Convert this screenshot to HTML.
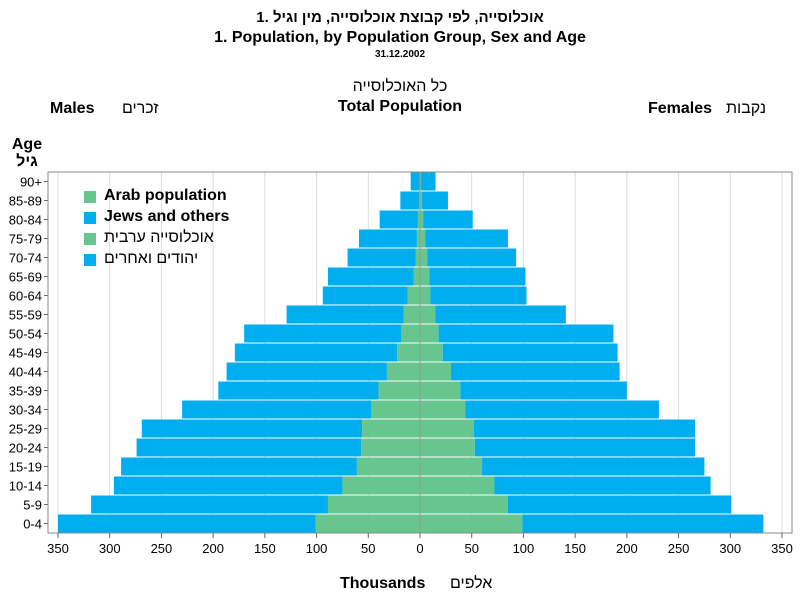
<!DOCTYPE html>
<html><head><meta charset="utf-8"><style>
body{margin:0;background:#fff;font-family:"Liberation Sans","Noto Sans CJK SC",sans-serif}
svg text{font-family:"Liberation Sans","Noto Sans CJK SC",sans-serif}
</style></head><body>
<svg id="chart" width="800" height="600">
<text x="400" y="22" text-anchor="middle" font-size="15" font-weight="bold">1.  אוכלוסייה, לפי קבוצת אוכלוסייה, מין וגיל</text>
<text x="400" y="42" text-anchor="middle" font-size="16" font-weight="bold">1. Population, by Population Group, Sex and Age</text>
<text x="400" y="57" text-anchor="middle" font-size="10" font-weight="bold">31.12.2002</text>
<text x="400" y="91" text-anchor="middle" font-size="16">כל האוכלוסייה</text>
<text x="400" y="111" text-anchor="middle" font-size="16" font-weight="bold">Total Population</text>
<text x="50" y="113" font-size="16" font-weight="bold">Males</text>
<text x="122" y="113" font-size="16">זכרים</text>
<text x="648" y="113" font-size="16" font-weight="bold">Females</text>
<text x="726" y="113" font-size="16">נקבות</text>
<text x="27" y="149" text-anchor="middle" font-size="16" font-weight="bold">Age</text>
<text x="27" y="166" text-anchor="middle" font-size="16" font-weight="bold">גיל</text>
<text x="340" y="588" font-size="16" font-weight="bold">Thousands</text>
<text x="450" y="588" font-size="16">אלפים</text>
<g id="grid"></g><g id="bars"></g><g id="axes"></g>
<g>
<rect x="84" y="191" width="12" height="12" fill="#66c68e"/>
<text x="104" y="200" font-size="16" font-weight="bold">Arab population</text>
<rect x="84" y="212" width="12" height="12" fill="#00adef"/>
<text x="104" y="221" font-size="16" font-weight="bold">Jews and others</text>
<rect x="84" y="233" width="12" height="12" fill="#66c68e"/>
<text x="104" y="242" font-size="16">אוכלוסייה ערבית</text>
<rect x="84" y="254" width="12" height="12" fill="#00adef"/>
<text x="104" y="263" font-size="16">יהודים ואחרים</text>
</g>
</svg>
<script>
const ages=["0-4","5-9","10-14","15-19","20-24","25-29","30-34","35-39","40-44","45-49","50-54","55-59","60-64","65-69","70-74","75-79","80-84","85-89","90+"];
const maleArab=[101,89,75,61,57,56,47,40,32,22,18,16,12,6,4,3,2,1,0.5];
const maleTotal=[350,318,296,289,274,269,230,195,187,179,170,129,94,89,70,59,39,19,9];
const femaleArab=[99,85,72,60,53,52,44,39,30,22,18,15,10,9,7,5,3,2,1];
const femaleTotal=[332,301,281,275,266,266,231,200,193,191,187,141,103,102,93,85,51,27,15];
const ticks=[-350,-300,-250,-200,-150,-100,-50,0,50,100,150,200,250,300,350];
const NS="http://www.w3.org/2000/svg";
const X0=420,SC=362/350,TOP=172,BOT=533,N=ages.length,STEP=(BOT-TOP)/N;
const xs=v=>X0+v*SC;
const yc=i=>BOT-(i+0.5)*STEP;
function mk(tag,attrs,parent){const e=document.createElementNS(NS,tag);for(const k in attrs)e.setAttribute(k,attrs[k]);parent.appendChild(e);return e;}
const grid=document.getElementById('grid'),bars=document.getElementById('bars'),axes=document.getElementById('axes');
ticks.forEach(t=>{
  const l=mk('line',{x1:xs(t),x2:xs(t),y1:TOP,y2:BOT,stroke:'#dcdcdc'},grid);
  
  
  const tk=mk('line',{x1:xs(t),x2:xs(t),y1:BOT,y2:BOT+5,stroke:'#666'},axes);
  
  
  const tx=mk('text',{x:xs(t),y:BOT+20,'text-anchor':'middle','font-size':13},axes);
  tx.textContent=Math.abs(t);
  
  
});
const H=STEP-1;
function bar(x1,x2,y,fill,name){
  const r=mk('rect',{x:Math.min(x1,x2),y:y-H/2,width:Math.abs(x2-x1),height:H,fill:fill},bars);
  
  
}
ages.forEach((a,i)=>{
  const y=yc(i);
  bar(xs(-maleTotal[i]),xs(-maleArab[i]),y,'#00adef','bar-male-jews-'+a);
  bar(xs(-maleArab[i]),xs(0),y,'#66c68e','bar-male-arab-'+a);
  bar(xs(0),xs(femaleArab[i]),y,'#66c68e','bar-female-arab-'+a);
  bar(xs(femaleArab[i]),xs(femaleTotal[i]),y,'#00adef','bar-female-jews-'+a);
  const tk=mk('line',{x1:44,x2:48,y1:y,y2:y,stroke:'#666'},axes);
  
  
  const tx=mk('text',{x:42,y:y+5,'text-anchor':'end','font-size':13},axes);
  tx.textContent=a;
  
  
});
const z=mk('line',{x1:X0,x2:X0,y1:TOP,y2:BOT,stroke:'#999'},axes);


const fr=mk('rect',{x:48,y:TOP,width:744,height:BOT-TOP,fill:'none',stroke:'#888'},axes);


</script>
</body></html>
